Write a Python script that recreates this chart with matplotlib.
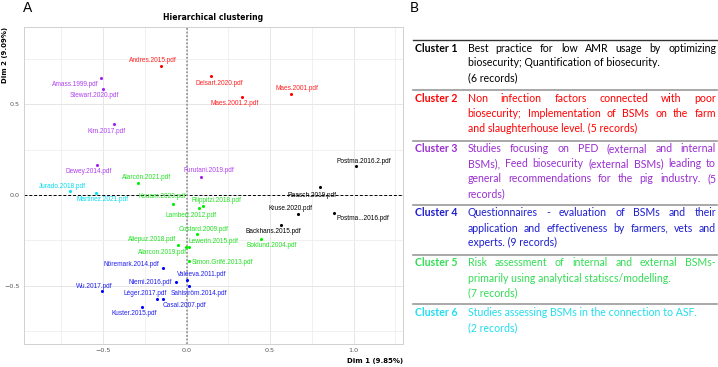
import matplotlib
matplotlib.use('Agg')
import matplotlib.pyplot as plt
from matplotlib.ticker import MultipleLocator

W, H = 718, 367

# factor map coordinates
names = ['Andres.2015.pdf', 'Delsart.2020.pdf', 'Maes.2001.2.pdf', 'Maes.2001.pdf',
         'Amass.1999.pdf', 'Stewart.2020.pdf', 'Kim.2017.pdf', 'Dewey.2014.pdf', 'Furutani.2019.pdf',
         'Jurado.2018.pdf', 'Martinez.2021.pdf',
         'Postma.2016.2.pdf', 'Raasch.2019.pdf', 'Kruse.2020.pdf', 'Postma...2016.pdf', 'Backhans.2015.pdf',
         'Alarcón.2021.pdf', 'Kouam.2020.pdf', 'Filippitzi.2018.pdf', 'Lambert.2012.pdf', 'Costard.2009.pdf',
         'Allepuz.2018.pdf', 'Alarcon.2019.pdf', 'Lewerin.2015.pdf', 'Simon.Grifé.2013.pdf', 'Boklund.2004.pdf',
         'Nöremark.2014.pdf', 'Valeeva.2011.pdf', 'Niemi.2016.pdf', 'Sahlström.2014.pdf', 'Wu.2017.pdf',
         'Léger.2017.pdf', 'Casal.2007.pdf', 'Kuster.2015.pdf']
dim1 = [-0.151, 0.147, 0.334, 0.626,
        -0.514, -0.502, -0.432, -0.538, 0.085,
        -0.696, -0.542,
        1.013, 0.799, 0.670, 0.881, 0.568,
        -0.289, -0.079, 0.097, 0.075, 0.061,
        -0.053, -0.003, 0.016, 0.013, 0.446,
        -0.139, 0.001, -0.061, 0.015, -0.506,
        -0.175, -0.139, -0.268]
dim2 = [0.714, 0.656, 0.543, 0.556,
        0.648, 0.586, 0.392, 0.166, 0.101,
        0.022, 0.013,
        0.160, 0.044, -0.107, -0.101, -0.166,
        0.064, -0.051, -0.061, -0.074, -0.217,
        -0.276, -0.286, -0.286, -0.363, -0.243,
        -0.403, -0.471, -0.482, -0.503, -0.532,
        -0.573, -0.573, -0.617]
cluster = [2, 2, 2, 2,
           3, 3, 3, 3, 3,
           6, 6,
           1, 1, 1, 1, 1,
           5, 5, 5, 5, 5, 5, 5, 5, 5, 5,
           4, 4, 4, 4, 4, 4, 4, 4]

# label offsets in pixels (repel-like placement)
lab_off = [(-8, 5), (8, -7), (-8, -7), (6, 6),
           (-25, -7), (-8, -7), (-8, -7), (-8, -7), (8, 6),
           (-8, 5), (7, -7),
           (8, 5), (-8, -8), (-8, 6), (29, -5), (-8, -6),
           (8, 6), (-11, 8), (14, 6), (-8, -7), (7, 5),
           (-26, 5), (-24, -6), (24, 5), (34, -2), (11, -7),
           (-32, 3), (15, 6), (-26, 0), (10, -7), (-8, 5),
           (-12, 5), (21, -7), (-8, -7)]

colors = {1: '#000000', 2: '#FF0000', 3: '#A020F0', 4: '#0000FF', 5: '#00EE00', 6: '#00E5EE'}
txtcol = {1: '#000000', 2: '#FF2020', 3: '#B040F0', 4: '#2020F0', 5: '#22E022', 6: '#00DDEE'}

cluster_names = ['Cluster 1', 'Cluster 2', 'Cluster 3', 'Cluster 4', 'Cluster 5', 'Cluster 6']
cluster_text = [
    ['Best practice for low AMR usage by optimizing', 'biosecurity; Quantification of biosecurity.', '(6 records)'],
    ['Non infection factors connected with poor', 'biosecurity; Implementation of BSMs on the farm',
     'and slaughterhouse level. (5 records)'],
    ['Studies focusing on PED (external and internal', 'BSMs), Feed biosecurity (external BSMs) leading to',
     'general recommendations for the pig industry. (5', 'records)'],
    ['Questionnaires - evaluation of  BSMs and their', 'application and effectiveness by farmers, vets and',
     'experts. (9 records)'],
    ['Risk assessment of internal and external BSMs-', 'primarily using analytical statiscs/modelling.', '(7 records)'],
    ['Studies assessing BSMs in the connection to ASF.', '(2 records)'],
]
justified = [[True, False, False], [True, True, False], [True, True, True, False],
             [True, True, False], [True, False, False], [False, False]]
table_col = ['#000000', '#FF0000', '#9A2FD0', '#1E1ED0', '#33DD55', '#22DDEE']

fig = plt.figure(figsize=(W / 100, H / 100), dpi=100)
fig.patch.set_facecolor('white')

# ---- panel A ----
ax = fig.add_axes([24 / W, 1 - 344 / H, (403 - 24) / W, (344 - 27) / H])
ax.set_xlim(-0.973, 1.296)
ax.set_ylim(-0.823, 0.928)
ax.xaxis.set_major_locator(MultipleLocator(0.5))
ax.yaxis.set_major_locator(MultipleLocator(0.5))
ax.xaxis.set_minor_locator(MultipleLocator(0.25))
ax.yaxis.set_minor_locator(MultipleLocator(0.25))
ax.grid(which='major', color='#E6E6E6', lw=0.7)
ax.grid(which='minor', color='#EEEEEE', lw=0.6)
ax.set_axisbelow(True)
for s in ax.spines.values():
    s.set_color('#D0D0D0')
    s.set_linewidth(0.7)
ax.tick_params(which='both', length=0, labelsize=4.6, labelcolor='#555555', pad=3)

ax.axhline(0, color='black', lw=0.7, ls=(0, (3, 2)), zorder=1)
ax.axvline(0, color='#999999', lw=1.3, ls=(0, (1, 1)), zorder=1)

for k in range(1, 7):
    xs = [dim1[i] for i in range(len(names)) if cluster[i] == k]
    ys = [dim2[i] for i in range(len(names)) if cluster[i] == k]
    ax.scatter(xs, ys, s=5, color=colors[k], lw=0, zorder=3)

for i, n in enumerate(names):
    ax.annotate(n, (dim1[i], dim2[i]), xytext=lab_off[i], textcoords='offset pixels',
                ha='center', va='center', fontsize=4.7, color=txtcol[cluster[i]],
                family='Liberation Sans', zorder=4)

ax.set_title('Hierarchical clustering', fontsize=5.6, fontweight='bold', pad=5)
fig.text(403 / W, 1 - 361 / H, 'Dim 1 (9.85%)', ha='right', va='center', fontsize=5, fontweight='bold')
fig.text(5 / W, 1 - 27 / H, 'Dim 2 (9.09%)', ha='center', va='top', rotation=90, fontsize=5, fontweight='bold')
fig.text(23 / W, 1 - 8 / H, 'A', ha='left', va='center', fontsize=10, family='Liberation Sans')
fig.text(410 / W, 1 - 8 / H, 'B', ha='left', va='center', fontsize=10, family='Lato')

# ---- panel B ----
renderer = fig.canvas.get_renderer()
x_lab, x0, x1 = 415, 467.7, 716
line_y = [40, 90, 140.7, 205, 255, 304.3]
fs = 7.6


def put_line(y, line, color, just):
    yf = 1 - y / H
    if not just:
        fig.text(x0 / W, yf, line, ha='left', va='baseline', fontsize=fs, color=color, family='Lato')
        return
    # justified: spread the words over the column width
    words = line.split()
    objs = [fig.text(0, yf, w, ha='left', va='baseline', fontsize=fs, color=color, family='Lato')
            for w in words]
    widths = [o.get_window_extent(renderer).width for o in objs]
    gap = (x1 - x0 - sum(widths)) / (len(words) - 1)
    x = x0
    for o, w in zip(objs, widths):
        o.set_x(x / W)
        x += w + gap


for k in range(6):
    ly = line_y[k]
    fig.add_artist(plt.Line2D([413 / W, 717 / W], [1 - ly / H, 1 - ly / H],
                              color='#333333' if k == 0 else '#9A9A9A', lw=1.0 if k == 0 else 1.2))
    fig.text(x_lab / W, 1 - (ly + 11.5) / H, cluster_names[k], ha='left', va='baseline', fontsize=fs,
             fontweight='bold', color=table_col[k], family='Lato')
    for j, line in enumerate(cluster_text[k]):
        put_line(ly + 11.5 + 15 * j, line, table_col[k], justified[k][j])

fig.savefig('out.png', dpi=100)
